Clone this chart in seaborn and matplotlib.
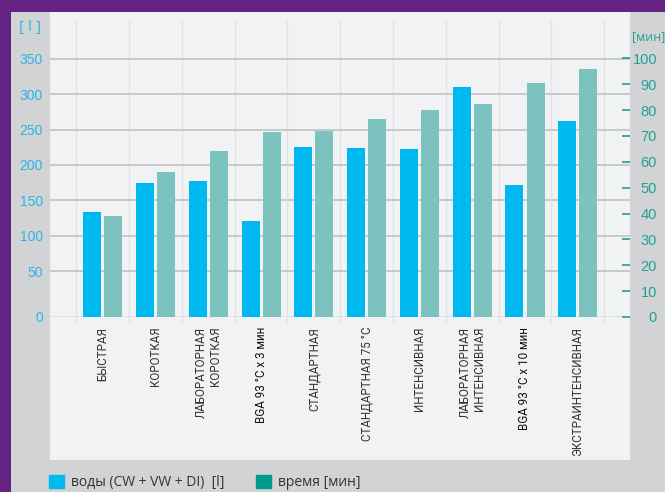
import numpy as np
import pandas as pd
import seaborn as sns
import matplotlib.pyplot as plt
from matplotlib.patches import Rectangle, Patch

# данные
programmes = ["БЫСТРАЯ", "КОРОТКАЯ", "ЛАБОРАТОРНАЯ\nКОРОТКАЯ", "BGA 93 °C x 3 мин",
              "СТАНДАРТНАЯ", "СТАНДАРТНАЯ 75 °C", "ИНТЕНСИВНАЯ",
              "ЛАБОРАТОРНАЯ\nИНТЕНСИВНАЯ", "BGA 93 °C x 10 мин", "ЭКСТРАИНТЕНСИВНАЯ"]
water_l = [133, 175, 178, 121, 225, 224, 222, 310, 171, 262]
time_min = [39, 56, 64, 71.5, 72, 76.5, 80, 82.5, 90.5, 96]
left_ticks = [0, 50, 100, 150, 200, 250, 300, 350]
right_ticks = [0, 10, 20, 30, 40, 50, 60, 70, 80, 90, 100]

purple = "#652483"
panel = "#d2d3d5"
light = "#f1f2f4"
blue = "#00b9f1"
teal_bar = "#7cc2be"
teal_leg = "#009a8c"
cyan_txt = "#2bb5e5"
teal_txt = "#22a196"

sns.set_style("white")
plt.rcParams['font.family'] = ['Open Sans', 'DejaVu Sans']

df = pd.DataFrame({
    "программа": programmes * 2,
    "ряд": ["water"] * len(programmes) + ["time"] * len(programmes),
    "значение": water_l + time_min,
})
df_w = df.copy()
df_w.loc[df_w["ряд"] == "time", "значение"] = np.nan
df_t = df.copy()
df_t.loc[df_t["ряд"] == "water", "значение"] = np.nan

W, H = 665, 492
fig = plt.figure(figsize=(W / 100, H / 100), dpi=100)
fig.patch.set_facecolor(purple)
fig.add_artist(Rectangle((11 / W, 0), 1, (H - 12) / H, transform=fig.transFigure,
                         facecolor=panel, edgecolor="none", zorder=-10))
fig.add_artist(Rectangle((50 / W, (H - 460) / H), 580 / W, 448 / H, transform=fig.transFigure,
                         facecolor=light, edgecolor="none", zorder=-9))

ax = fig.add_axes([50 / W, (H - 317) / H, 580 / W, 305 / H])
ax.set_facecolor("none")
ax2 = ax.twinx()

pal = {"water": blue, "time": teal_bar}
bar_kw = dict(x="программа", y="значение", hue="ряд", hue_order=["water", "time"],
              palette=pal, width=0.8, gap=0.145, errorbar=None, legend=False,
              saturation=1, linewidth=0, edgecolor="none", zorder=3)
sns.barplot(data=df_w, ax=ax, **bar_kw)
sns.barplot(data=df_t, ax=ax2, **bar_kw)


# левая шкала на картинке неравномерная: отрезок 0-50 растянут
def fwd(v):
    v = np.asarray(v, dtype=float)
    return np.where(v < 50, v * 0.92, 46 + (v - 50) * 0.7067)


def inv(p):
    p = np.asarray(p, dtype=float)
    return np.where(p < 46, p / 0.92, 50 + (p - 46) / 0.7067)


ax.set_yscale("function", functions=(fwd, inv))
ax.set_ylim(0, 416.5)
ax2.set_ylim(0, 117.9)
ax.set_xlim(-1.0, 9.99)

for a in (ax, ax2):
    for s in a.spines.values():
        s.set_visible(False)
    a.set_xlabel("")
    a.set_ylabel("")

ax.set_yticks(left_ticks)
ax.set_yticklabels([str(t) for t in left_ticks])
ax.tick_params(axis="y", length=0, pad=5, labelsize=10, labelcolor=cyan_txt,
               labelfontfamily="Liberation Sans")
ax.yaxis.grid(True, color="#c4c5c7", lw=1.3)
ax.get_ygridlines()[0].set_color("#e0e1e3")
ax.set_axisbelow(True)

ax2.set_yticks(right_ticks, labels=[str(t) for t in right_ticks], ha="right")
ax2.tick_params(axis="y", direction="in", length=5.8, width=1.2, color="#1a9f93",
                pad=19.5, labelsize=10.5, labelcolor=teal_txt,
                labelfontfamily="Liberation Sans")

ax.set_xticks(range(len(programmes)))
ax.set_xticklabels(programmes, rotation=90, ha="center", va="top",
                   multialignment="right", fontsize=8.4, color="#333333",
                   linespacing=1.15, family=["Roboto", "DejaVu Sans"])
for lab in ax.get_xticklabels():
    if lab.get_text().startswith("BGA"):
        lab.set_color("#111111")
ax.tick_params(axis="x", length=0, pad=7)

for i in range(len(programmes) + 1):
    ax.axvline(i - 0.5, ymin=-0.016, ymax=0.97, color="#e2e3e5", lw=1,
               clip_on=False, zorder=0)

fig.text(29.5 / W, 1 - 27 / H, "[ l ]", ha="center", va="center",
         color=cyan_txt, fontsize=11)
fig.text(648.5 / W, 1 - 36.5 / H, "[мин]", ha="center", va="center",
         color=teal_txt, fontsize=9)

handles = [Patch(color=blue, label="воды (CW + VW + DI)  [l]"),
           Patch(color=teal_leg, label="время [мин]")]
fig.legend(handles=handles, loc="center left", bbox_to_anchor=(49 / W, 9.5 / H),
           ncol=2, frameon=False, fontsize=10, handlelength=1.08, handleheight=1.08,
           handletextpad=0.5, columnspacing=2.3, borderpad=0, borderaxespad=0,
           labelcolor="#333333")

fig.savefig("out.png", dpi=100, facecolor=fig.get_facecolor())
